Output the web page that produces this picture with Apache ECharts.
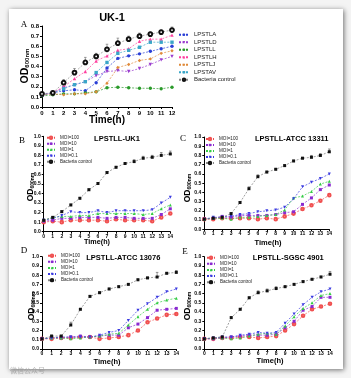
<!DOCTYPE html>
<html><head><meta charset="utf-8">
<script src="https://cdn.jsdelivr.net/npm/echarts@6/dist/echarts.min.js"></script>
<style>html,body{margin:0;padding:0;background:#f4f4f4;}#c{width:351px;height:378px;}</style>
</head><body><div id="c"></div>
<script>
// ---------- DATA ----------
const hoursA = [0,1,2,3,4,5,6,7,8,9,10,11,12];
const hoursMOI = [0,1,2,3,4,5,6,7,8,9,10,11,12,13,14];

const namesA = ['LPSTLA','LPSTLD','LPSTLL','LPSTLH','LPSTLJ','LPSTAV','Bacteria control'];
const aLPSTLA = [0.12,0.14,0.16,0.17,0.16,0.24,0.385,0.48,0.505,0.525,0.55,0.575,0.60];
const aLPSTLD = [0.12,0.14,0.19,0.22,0.25,0.31,0.35,0.36,0.35,0.38,0.42,0.465,0.50];
const aLPSTLL = [0.11,0.12,0.13,0.13,0.14,0.15,0.19,0.195,0.19,0.185,0.185,0.18,0.195];
const aLPSTLH = [0.12,0.14,0.20,0.28,0.35,0.455,0.505,0.56,0.575,0.65,0.67,0.67,0.71];
const aLPSTLJ = [0.12,0.13,0.12,0.13,0.13,0.15,0.235,0.39,0.42,0.46,0.475,0.53,0.555];
const aLPSTAV = [0.12,0.14,0.18,0.22,0.25,0.34,0.44,0.53,0.56,0.59,0.64,0.64,0.64];
const aControl = [0.13,0.14,0.24,0.34,0.44,0.50,0.57,0.63,0.67,0.70,0.72,0.74,0.76];
const aControlErr = [0.01,0.02,0.03,0.04,0.05,0.03,0.05,0.05,0.03,0.03,0.02,0.02,0.03];

const namesMOI = ['MOI=100','MOI=10','MOI=1','MOI=0.1','Bacteria control'];
// B: LPSTLL-UK1
const b100 = [0.10,0.11,0.10,0.12,0.12,0.12,0.12,0.11,0.13,0.12,0.12,0.12,0.11,0.15,0.19];
const b10  = [0.11,0.12,0.14,0.14,0.15,0.15,0.15,0.14,0.15,0.15,0.14,0.14,0.14,0.18,0.24];
const b1   = [0.12,0.15,0.16,0.16,0.17,0.17,0.19,0.19,0.19,0.19,0.19,0.18,0.19,0.24,0.28];
const b01  = [0.12,0.14,0.17,0.21,0.20,0.20,0.22,0.20,0.22,0.22,0.22,0.22,0.23,0.30,0.36];
const bCtl = [0.12,0.15,0.21,0.28,0.35,0.44,0.505,0.62,0.675,0.715,0.735,0.77,0.78,0.80,0.815];
const bCtlErr = [0.01,0.01,0.01,0.01,0.01,0.01,0.01,0.01,0.01,0.01,0.02,0.02,0.02,0.03,0.03];
// C: LPSTLL-ATCC 13311
const c100 = [0.11,0.11,0.12,0.12,0.12,0.12,0.11,0.12,0.11,0.14,0.17,0.22,0.26,0.31,0.37];
const c10  = [0.11,0.12,0.14,0.13,0.15,0.15,0.15,0.15,0.16,0.18,0.19,0.27,0.34,0.43,0.48];
const c1   = [0.11,0.12,0.12,0.11,0.13,0.13,0.14,0.15,0.16,0.21,0.34,0.36,0.41,0.49,0.52];
const c01  = [0.11,0.13,0.13,0.14,0.16,0.17,0.19,0.20,0.21,0.24,0.33,0.46,0.51,0.55,0.60];
const cCtl = [0.11,0.12,0.13,0.17,0.29,0.44,0.57,0.62,0.65,0.69,0.74,0.77,0.78,0.80,0.84];
const cCtlErr = [0.01,0.01,0.01,0.01,0.01,0.02,0.02,0.01,0.01,0.01,0.01,0.01,0.02,0.02,0.03];
// D: LPSTLL-ATCC 13076
const d100 = [0.11,0.11,0.12,0.12,0.13,0.13,0.11,0.12,0.13,0.15,0.20,0.29,0.33,0.37,0.38];
const d10  = [0.11,0.12,0.12,0.13,0.14,0.13,0.14,0.15,0.15,0.23,0.27,0.34,0.42,0.43,0.44];
const d1   = [0.11,0.12,0.12,0.11,0.12,0.13,0.14,0.16,0.17,0.26,0.35,0.43,0.50,0.53,0.55];
const d01  = [0.11,0.12,0.13,0.13,0.13,0.13,0.15,0.18,0.20,0.31,0.42,0.49,0.56,0.62,0.65];
const dCtl = [0.11,0.14,0.14,0.26,0.43,0.57,0.61,0.65,0.675,0.70,0.75,0.77,0.78,0.82,0.83];
const dCtlErr = [0.01,0.01,0.01,0.03,0.01,0.01,0.01,0.01,0.01,0.01,0.01,0.01,0.05,0.01,0.02];
// E: LPSTLL-SGSC 4901
const e100 = [0.11,0.11,0.12,0.12,0.13,0.13,0.12,0.13,0.14,0.20,0.27,0.36,0.43,0.46,0.49];
const e10  = [0.11,0.11,0.12,0.13,0.14,0.15,0.15,0.15,0.16,0.23,0.30,0.42,0.46,0.56,0.56];
const e1   = [0.11,0.12,0.12,0.11,0.12,0.14,0.16,0.17,0.16,0.25,0.35,0.44,0.50,0.58,0.60];
const e01  = [0.11,0.12,0.13,0.13,0.15,0.16,0.18,0.17,0.18,0.28,0.38,0.48,0.56,0.62,0.65];
const eCtl = [0.11,0.12,0.13,0.34,0.43,0.555,0.61,0.63,0.655,0.675,0.70,0.73,0.755,0.78,0.81];
const eCtlErr = [0.01,0.01,0.01,0.01,0.01,0.01,0.02,0.02,0.02,0.01,0.01,0.01,0.01,0.01,0.03];

const titles = ['UK-1','LPSTLL-UK1','LPSTLL-ATCC 13311','LPSTLL-ATCC 13076','LPSTLL-SGSC 4901'];
const letters = ['A','B','C','D','E'];

// ---------- STYLE / LAYOUT ----------
const grids = [
  {left:42, top:26, width:130, height:81},
  {left:43.7, top:136.3, width:126.6, height:95.4},
  {left:204.3, top:137, width:125, height:92.3},
  {left:42, top:256.7, width:134.3, height:92.3},
  {left:204.3, top:256.7, width:125.7, height:92.3}
];
const FONT = 'Liberation Sans, Arial, sans-serif';
const styleA = [
  {c:'#2a3fd6', s:'circle', r:0},
  {c:'#9a3ccf', s:'triangle', r:180},
  {c:'#2a9a2a', s:'circle', r:0},
  {c:'#ff3f9f', s:'triangle', r:0},
  {c:'#e08a3a', s:'diamond', r:0},
  {c:'#3aa6c8', s:'rect', r:0},
  {c:'#111111', s:'emptyCircle', r:0, line:'#888888'}
];
const styleM = [
  {c:'#f05050', s:'emptyCircle', r:0},
  {c:'#8a2ad0', s:'rect', r:0},
  {c:'#33cc44', s:'triangle', r:0},
  {c:'#3a3ae0', s:'triangle', r:180},
  {c:'#111111', s:'rect', r:0, line:'#777777'}
];

function mkSeries(name, xs, ys, st, gi, big){
  const empty = st.s==='emptyCircle';
  return {
    type:'line', name:name, xAxisIndex:gi, yAxisIndex:gi,
    data: xs.map((x,i)=>[x, ys[i]]),
    symbol: st.s, symbolRotate: st.r,
    symbolSize: empty ? (big?3.8:2.6) : (big?3.4:3),
    itemStyle:{color:st.c, borderColor:st.c, borderWidth: empty ? (big?1.4:0.9) : 0},
    lineStyle:{color: st.line || st.c, width:0.7, type:[2,1.5]},
    emphasis:{disabled:true}, animation:false, z: st.line?3:2
  };
}
function mkErr(xs, ys, errs, gi, color){
  return {
    type:'custom', xAxisIndex:gi, yAxisIndex:gi, silent:true, z:1,
    data: xs.map((x,i)=>[x, ys[i], ys[i]+errs[i]]),
    renderItem:(params, api)=>{
      const p0 = api.coord([api.value(0), api.value(1)]);
      const p1 = api.coord([api.value(0), api.value(2)]);
      const hw = 1.3;
      return {type:'group', children:[
        {type:'line', shape:{x1:p0[0],y1:p0[1],x2:p1[0],y2:p1[1]}, style:{stroke:color, lineWidth:0.6}},
        {type:'line', shape:{x1:p1[0]-hw,y1:p1[1],x2:p1[0]+hw,y2:p1[1]}, style:{stroke:color, lineWidth:0.6}}
      ]};
    }
  };
}

const series = [];
const panelA = [aLPSTLA,aLPSTLD,aLPSTLL,aLPSTLH,aLPSTLJ,aLPSTAV,aControl];
series.push(mkErr(hoursA, aControl, aControlErr, 0, '#666'));
panelA.forEach((d,i)=>series.push(mkSeries(namesA[i], hoursA, d, styleA[i], 0, true)));
const panels = [[b100,b10,b1,b01,bCtl],[c100,c10,c1,c01,cCtl],[d100,d10,d1,d01,dCtl],[e100,e10,e1,e01,eCtl]];
const ctlErrs = [bCtlErr, cCtlErr, dCtlErr, eCtlErr];
panels.forEach((p,pi)=>{
  series.push(mkErr(hoursMOI, p[4], ctlErrs[pi], pi+1, '#555'));
  p.forEach((d,i)=>series.push(mkSeries(namesMOI[i], hoursMOI, d, styleM[i], pi+1, false)));
});

const xAxes = grids.map((g,i)=>({
  gridIndex:i, type:'value', min:0, max: i===0?12:14, interval:1,
  axisLine:{lineStyle:{color:'#000', width:1}},
  axisTick:{length:2, lineStyle:{color:'#000'}},
  axisLabel:{fontSize: i===0?6:5, fontWeight:'bold', color:'#000', margin: i===0?3:2, fontFamily:FONT},
  splitLine:{show:false}
}));
const yAxes = grids.map((g,i)=>({
  gridIndex:i, type:'value', min:0, max: i===0?0.8:1.0, interval:0.1,
  axisLine:{show:true, lineStyle:{color:'#000', width:1}},
  axisTick:{show:true, length:2, lineStyle:{color:'#000'}},
  axisLabel:{fontSize: i===0?6:5, fontWeight:'bold', color:'#000', margin:3, fontFamily:FONT,
    formatter:v=>v.toFixed(1)},
  splitLine:{show:false}
}));

const legendPos = [
  {left:178, top:31, w:10, fs:6, lh:7.5, names:namesA},
  {left:46, top:134.7, w:8, fs:4.6, lh:6, names:namesMOI},
  {left:205, top:136, w:8, fs:4.6, lh:6, names:namesMOI},
  {left:47, top:252.7, w:8, fs:4.6, lh:6.1, names:namesMOI},
  {left:206, top:254.7, w:8, fs:4.6, lh:6.1, names:namesMOI}
];
const legends = legendPos.map(l=>({
  orient:'vertical', left:l.left, top:l.top, padding:0, itemGap:0,
  itemWidth:l.w, itemHeight:3, data:l.names, selectedMode:false,
  textStyle:{fontSize:l.fs, lineHeight:l.lh, color:'#222', fontFamily:FONT}
}));

// graphic texts
const gr = [];
gr.push({type:'rect', shape:{x:9,y:9,width:334,height:360}, style:{fill:'#fff', shadowBlur:5, shadowColor:'rgba(0,0,0,0.55)', shadowOffsetX:1, shadowOffsetY:1}, z:-10, silent:true});
const titlePos = [[112,18,11],[117,138.5,7.5],[291.7,139,7.5],[123.3,257.5,7.5],[288.3,258.3,7.5]];
titles.forEach((t,i)=>gr.push({type:'text', x:titlePos[i][0], y:titlePos[i][1], style:{text:t, font:'bold '+titlePos[i][2]+'px '+FONT, fill:'#000', textAlign:'center', textVerticalAlign:'middle'}}));
const letterPos = [[24,25],[22,141],[183,139],[24,251],[185,252]];
letters.forEach((t,i)=>gr.push({type:'text', x:letterPos[i][0], y:letterPos[i][1], style:{text:t, font:'9px "Liberation Serif", "DejaVu Serif", serif', fill:'#000', textAlign:'center', textVerticalAlign:'middle'}}));
const timePos = [[107,120,10],[97,242,7.2],[268,243.3,7.5],[107,362,7.5],[270,360.5,7.5]];
timePos.forEach(p=>gr.push({type:'text', x:p[0], y:p[1], style:{text:'Time(h)', font:'bold '+p[2]+'px '+FONT, fill:'#000', textAlign:'center', textVerticalAlign:'middle'}}));
const odPos = [[25,66,10.5,6],[31,187,8.5,5],[188,188,8.5,5],[31.5,306,8.5,5],[188,306,8.5,5]];
odPos.forEach(p=>gr.push({type:'text', x:p[0], y:p[1], rotation:Math.PI/2,
  style:{text:'{a|OD}{b|600nm}', textAlign:'center', textVerticalAlign:'middle',
    rich:{a:{fontSize:p[2], fontWeight:'bold', fontFamily:FONT, fill:'#000', color:'#000'},
          b:{fontSize:p[3], fontWeight:'bold', fontFamily:FONT, fill:'#000', color:'#000', padding:[p[3]*0.7,0,0,0]}}}}));
gr.push({type:'text', x:10, y:370, style:{text:'微信公众号', font:'7px "Noto Sans CJK SC", sans-serif', fill:'rgba(150,150,150,0.7)', textAlign:'left', textVerticalAlign:'middle'}});

const chart = echarts.init(document.getElementById('c'), null, {renderer:'canvas'});
chart.setOption({
  animation:false,
  backgroundColor:'#f4f4f4',
  grid: grids.map(g=>Object.assign({containLabel:false}, g)),
  xAxis:xAxes, yAxis:yAxes, legend:legends, series:series, graphic:gr
});
</script></body></html>
